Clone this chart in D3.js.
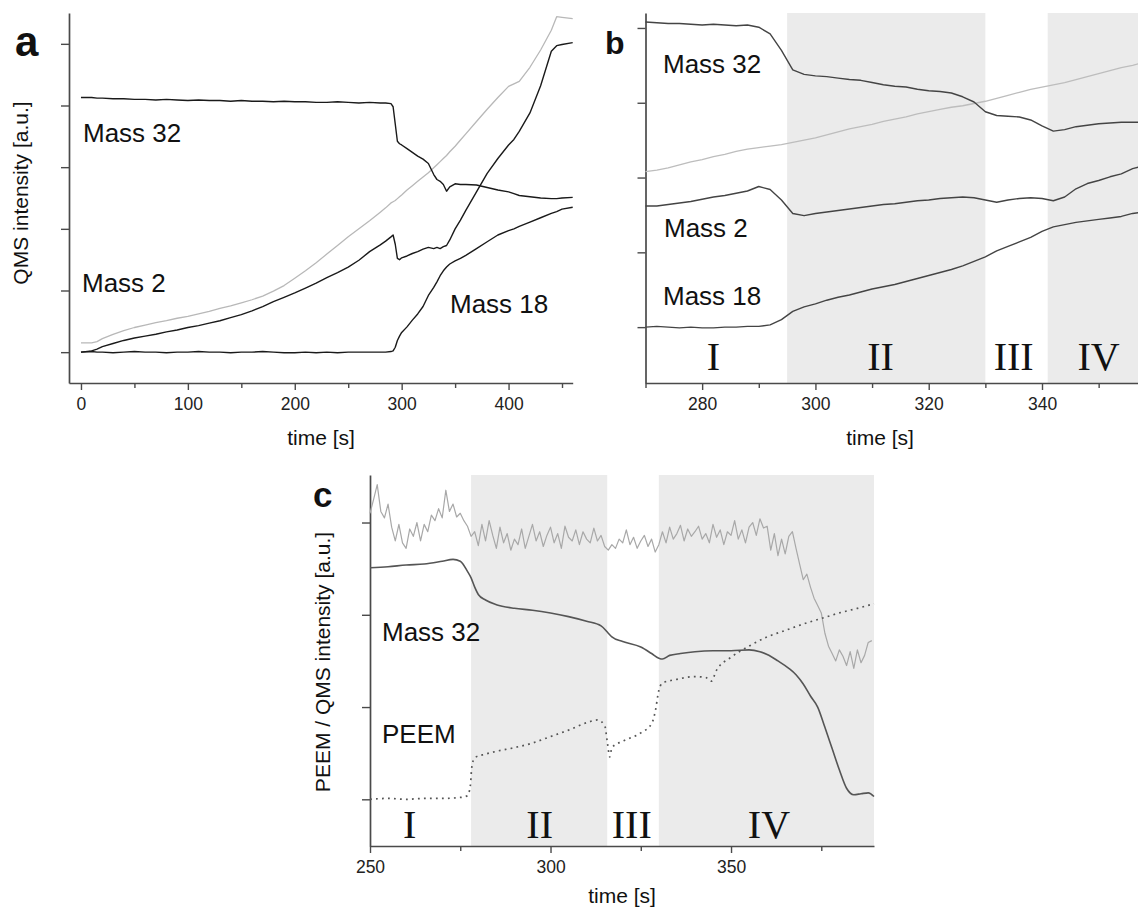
<!DOCTYPE html>
<html>
<head>
<meta charset="utf-8">
<script src="https://cdn.jsdelivr.net/npm/d3@7"></script>
<style>
  body { margin: 0; background: #fff; }
  #chart-container { width: 1138px; height: 910px; }
</style>
</head>
<body>
<div id="chart-container"></div>
<script>
// ---------- data: panel a (QMS, full run) ----------
const aTime = [0, 10, 15, 20, 30, 40, 50, 60, 70, 80, 90, 100, 110, 120, 130, 140, 150, 160, 170, 180, 190,
  200, 210, 220, 230, 240, 250, 260, 270, 280, 285, 290, 292, 294, 296, 298, 300, 305, 310, 315, 320, 325,
  330, 333, 336, 339, 342, 345, 350, 355, 360, 370, 380, 390, 400, 405, 410, 420, 430, 440, 445, 450, 460];
const aMass32 = [4.13, 4.13, 4.12, 4.12, 4.11, 4.11, 4.10, 4.10, 4.09, 4.10, 4.09, 4.08, 4.09, 4.08, 4.08, 4.07, 4.08, 4.07, 4.07, 4.06, 4.07,
  4.06, 4.06, 4.05, 4.05, 4.06, 4.05, 4.04, 4.05, 4.04, 4.04, 4.03, 3.98, 3.70, 3.42, 3.38, 3.36, 3.30, 3.24, 3.18, 3.13, 3.06,
  2.88, 2.80, 2.77, 2.72, 2.61, 2.68, 2.73, 2.72, 2.72, 2.71, 2.67, 2.63, 2.60, 2.57, 2.54, 2.52, 2.50, 2.49, 2.49, 2.50, 2.51];
const aGrey = [0.15, 0.15, 0.17, 0.22, 0.29, 0.35, 0.40, 0.44, 0.48, 0.51, 0.55, 0.58, 0.62, 0.66, 0.71, 0.75, 0.80, 0.85, 0.91, 0.99, 1.08,
  1.20, 1.32, 1.45, 1.59, 1.73, 1.87, 2.00, 2.13, 2.27, 2.34, 2.42, 2.44, 2.46, 2.49, 2.52, 2.55, 2.63, 2.70, 2.77, 2.84, 2.91,
  2.99, 3.04, 3.09, 3.14, 3.19, 3.25, 3.34, 3.44, 3.54, 3.74, 3.94, 4.13, 4.31, 4.35, 4.39, 4.62, 4.90, 5.22, 5.44, 5.43, 5.41];
const aMass2 = [0.00, 0.02, 0.05, 0.09, 0.14, 0.19, 0.23, 0.26, 0.29, 0.33, 0.36, 0.40, 0.43, 0.47, 0.51, 0.56, 0.61, 0.67, 0.74, 0.82, 0.89,
  0.96, 1.04, 1.12, 1.21, 1.29, 1.38, 1.49, 1.63, 1.74, 1.80, 1.87, 1.90, 1.75, 1.52, 1.50, 1.53, 1.56, 1.60, 1.63, 1.67, 1.70,
  1.68, 1.70, 1.68, 1.71, 1.73, 1.82, 2.00, 2.14, 2.30, 2.60, 2.90, 3.14, 3.36, 3.45, 3.58, 3.88, 4.32, 4.88, 4.97, 4.99, 5.02];
const aMass18 = [0.00, 0.01, 0.00, 0.00, -0.01, 0.00, 0.01, 0.00, 0.00, -0.01, 0.00, 0.00, 0.01, 0.00, 0.00, -0.01, 0.00, 0.00, 0.01, 0.00, -0.01,
  -0.01, 0.00, -0.01, 0.00, -0.01, 0.00, 0.00, 0.00, 0.00, 0.00, 0.01, 0.02, 0.08, 0.19, 0.26, 0.32, 0.41, 0.52, 0.62, 0.74, 0.92,
  1.05, 1.14, 1.24, 1.32, 1.38, 1.43, 1.48, 1.52, 1.57, 1.68, 1.79, 1.90, 1.97, 2.00, 2.04, 2.11, 2.18, 2.25, 2.28, 2.32, 2.35];

// ---------- data: panel b (QMS, zoom on reaction) ----------
const bTime = [270, 272, 274, 276, 278, 280, 282, 284, 286, 288, 290, 292, 294, 296, 298, 300, 302, 304, 306, 308, 310, 312,
  314, 316, 318, 320, 322, 324, 326, 328, 330, 332, 334, 336, 338, 340, 342, 344, 346, 348, 350, 352, 354, 356, 357];
const bMass32 = [4.08, 4.07, 4.06, 4.06, 4.05, 4.04, 4.05, 4.04, 4.03, 4.04, 4.01, 3.92, 3.70, 3.44, 3.38, 3.36, 3.35, 3.33, 3.31, 3.30, 3.27, 3.24,
  3.22, 3.21, 3.18, 3.16, 3.15, 3.13, 3.08, 3.01, 2.88, 2.83, 2.82, 2.81, 2.77, 2.69, 2.62, 2.64, 2.68, 2.70, 2.72, 2.73, 2.74, 2.74, 2.74];
const bGrey = [2.08, 2.10, 2.13, 2.17, 2.21, 2.24, 2.28, 2.31, 2.35, 2.38, 2.40, 2.42, 2.44, 2.47, 2.50, 2.53, 2.57, 2.61, 2.65, 2.68, 2.71, 2.75,
  2.78, 2.81, 2.85, 2.88, 2.91, 2.94, 2.96, 2.99, 3.02, 3.06, 3.10, 3.14, 3.18, 3.21, 3.24, 3.27, 3.31, 3.35, 3.39, 3.43, 3.47, 3.50, 3.52];
const bMass2 = [1.62, 1.62, 1.64, 1.66, 1.68, 1.71, 1.74, 1.76, 1.79, 1.82, 1.88, 1.84, 1.70, 1.52, 1.49, 1.52, 1.54, 1.56, 1.58, 1.60, 1.62, 1.64,
  1.65, 1.67, 1.69, 1.70, 1.72, 1.73, 1.74, 1.73, 1.70, 1.67, 1.70, 1.72, 1.73, 1.72, 1.69, 1.74, 1.85, 1.92, 1.96, 2.01, 2.05, 2.12, 2.14];
const bMass18 = [0.00, 0.01, 0.00, -0.01, 0.00, -0.01, -0.01, 0.00, 0.00, 0.01, 0.01, 0.03, 0.10, 0.21, 0.27, 0.31, 0.36, 0.40, 0.43, 0.47, 0.51, 0.54,
  0.57, 0.61, 0.65, 0.69, 0.73, 0.77, 0.82, 0.88, 0.94, 1.02, 1.08, 1.14, 1.20, 1.28, 1.34, 1.37, 1.40, 1.42, 1.44, 1.46, 1.48, 1.52, 1.53];

// ---------- data: panel c (PEEM vs QMS) ----------
const cNoiseStart = 250; // grey trace sampled once per second from here
const cGrey = [
  3.10, 3.25, 3.41, 3.12, 3.05, 3.20, 2.95, 2.80, 2.98, 2.78,
  2.72, 2.93, 2.85, 3.00, 2.80, 2.98, 2.90, 3.08, 3.02, 3.15,
  3.05, 3.35, 3.12, 3.20, 3.06, 3.10, 3.02, 2.96, 2.85, 2.90,
  2.75, 2.98, 2.80, 3.02, 2.86, 2.72, 2.95, 2.78, 2.88, 2.70,
  2.82, 2.76, 2.93, 2.72, 2.85, 2.98, 2.80, 2.90, 2.74, 2.86,
  2.95, 2.78, 2.88, 2.72, 2.96, 2.84, 2.80, 2.92, 2.76, 2.90,
  2.82, 2.78, 2.94, 2.80, 2.86, 2.74, 2.70, 2.76, 2.72, 2.82,
  2.78, 2.92, 2.76, 2.84, 2.72, 2.80, 2.86, 2.74, 2.82, 2.68,
  2.76, 2.90, 2.78, 2.95, 2.82, 2.88, 2.97, 2.80, 2.93, 2.85,
  2.90, 2.96, 2.82, 2.88, 2.78, 2.98, 2.84, 2.92, 2.76, 2.90,
  2.86, 3.02, 2.82, 2.92, 2.78, 2.95, 3.00, 2.86, 3.04, 2.94,
  2.96, 2.70, 2.88, 2.64, 2.82, 2.66, 2.85, 2.90, 2.72, 2.55,
  2.38, 2.44, 2.30, 2.18, 2.10, 2.02, 1.80, 1.66, 1.58, 1.50,
  1.62, 1.55, 1.45, 1.60, 1.42, 1.62, 1.48, 1.56, 1.70, 1.72];
const cMass32Time = [250, 255, 260, 265, 270, 273, 275, 277, 278, 279, 280, 282, 285, 290, 295, 300, 305, 310, 314, 316, 317,
  320, 325, 328, 330, 331, 333, 336, 340, 345, 350, 355, 358, 360, 363, 366, 368, 370, 372, 374, 376, 378, 380, 382, 384, 386, 388, 389.6];
const cMass32 = [2.51, 2.52, 2.54, 2.55, 2.58, 2.60, 2.58, 2.47, 2.40, 2.30, 2.22, 2.16, 2.11, 2.07, 2.05, 2.02, 1.98, 1.93, 1.88, 1.80, 1.76,
  1.71, 1.65, 1.58, 1.53, 1.52, 1.56, 1.58, 1.60, 1.61, 1.61, 1.62, 1.60, 1.57, 1.50, 1.42, 1.35, 1.25, 1.12, 1.00, 0.78, 0.55, 0.32, 0.12, 0.05, 0.06, 0.07, 0.03];
const cPeemTime = [250, 255, 260, 265, 270, 275, 277, 277.8, 278.2, 279, 282, 285, 290, 295, 300, 305, 310, 313, 315, 315.8, 316.4,
  317, 320, 325, 328, 329, 330, 331, 335, 340, 343, 344.5, 346, 350, 355, 360, 365, 370, 375, 380, 385, 389.6];
const cPeem = [0.00, 0.01, 0.00, 0.01, 0.01, 0.02, 0.04, 0.15, 0.35, 0.45, 0.49, 0.52, 0.56, 0.61, 0.68, 0.75, 0.83, 0.86, 0.80, 0.60, 0.46,
  0.56, 0.63, 0.72, 0.82, 0.95, 1.18, 1.26, 1.30, 1.33, 1.32, 1.28, 1.40, 1.54, 1.66, 1.76, 1.83, 1.90, 1.96, 2.02, 2.07, 2.12];

// ---------- regions and labels ----------
const bRegions = [[295, 330], [341, 357]];
const cRegions = [[278, 315.7], [330, 389.6]];
const phaseNames = ["I", "II", "III", "IV"];
const bPhaseTimes = [282, 311.5, 335, 350];
const cPhaseTimes = [261, 297, 322.5, 360.5];

// ---------- page ----------
const W = 1138, H = 910;
const svg = d3.select("#chart-container")
  .append("svg")
  .attr("width", W)
  .attr("height", H)
  .style("font-family", "'Liberation Sans', Arial, sans-serif");

svg.append("rect").attr("width", W).attr("height", H).attr("fill", "#fff");

const axisColor = "#4a4a4a";

// draws axes for one panel, returns a group
function drawAxes(x, y, opt) {
  const g = svg.append("g");
  const [y0] = y.range();

  // minor x ticks (no labels)
  g.append("g")
    .attr("transform", `translate(0,${y0})`)
    .call(d3.axisBottom(x).tickValues(opt.minor).tickSize(5).tickSizeOuter(0).tickFormat(""))
    .call(s => s.select(".domain").remove());

  // major x ticks with labels
  g.append("g")
    .attr("transform", `translate(0,${y0})`)
    .call(d3.axisBottom(x).tickValues(opt.major).tickSize(7).tickSizeOuter(0).tickPadding(7.6).tickFormat(d3.format("d")))
    .call(s => s.selectAll(".tick text").style("font-size", "17.5px").attr("fill", "#222"));

  // y axis, ticks only
  g.append("g")
    .attr("transform", `translate(${x.range()[0]},0)`)
    .call(d3.axisLeft(y).tickValues(opt.yTicks).tickSize(8).tickSizeOuter(0).tickFormat(""));

  g.selectAll(".domain").attr("stroke", axisColor).attr("stroke-width", 1.7);
  g.selectAll(".tick line").attr("stroke", axisColor).attr("stroke-width", 1.4);
  return g;
}

function shade(x, y, regions) {
  svg.append("g")
    .selectAll("rect")
    .data(regions)
    .join("rect")
    .attr("x", d => x(d[0]))
    .attr("width", d => x(d[1]) - x(d[0]))
    .attr("y", y.range()[1])
    .attr("height", y.range()[0] - y.range()[1])
    .attr("fill", "#ebebeb");
}

function drawLine(x, y, times, values, color, width, dash, curve) {
  const line = d3.line()
    .x(d => x(d[0]))
    .y(d => y(d[1]))
    .curve(curve || d3.curveLinear);
  svg.append("path")
    .datum(times.map((t, i) => [t, values[i]]))
    .attr("fill", "none")
    .attr("stroke", color)
    .attr("stroke-width", width)
    .attr("stroke-dasharray", dash || null)
    .attr("stroke-linejoin", "round")
    .attr("d", line);
}

function label(x, y, txt, size, opts = {}) {
  svg.append("text")
    .attr("x", x)
    .attr("y", y)
    .attr("text-anchor", opts.anchor || "start")
    .style("font-size", size + "px")
    .style("font-weight", opts.bold ? "bold" : null)
    .style("font-family", opts.serif ? "'Liberation Serif', 'Times New Roman', serif" : null)
    .attr("fill", "#111")
    .text(txt);
}

function yTitle(cx, cy, txt) {
  svg.append("text")
    .attr("transform", `translate(${cx},${cy}) rotate(-90)`)
    .attr("text-anchor", "middle")
    .style("font-size", "21px")
    .attr("fill", "#111")
    .text(txt);
}

// ---------- panel a ----------
const xA = d3.scaleLinear().domain([-11.2, 460]).range([69, 572.7]);
const yA = d3.scaleLinear().domain([-0.5, 5.5]).range([383, 13]);

drawAxes(xA, yA, {
  major: [0, 100, 200, 300, 400],
  minor: [50, 150, 250, 350, 450],
  yTicks: [0, 1, 2, 3, 4, 5]
});
drawLine(xA, yA, aTime, aGrey, "#b8b8b8", 1.3);
drawLine(xA, yA, aTime, aMass32, "#1a1a1a", 1.4);
drawLine(xA, yA, aTime, aMass2, "#1a1a1a", 1.4);
drawLine(xA, yA, aTime, aMass18, "#1a1a1a", 1.4);

label(15, 56, "a", 42, { bold: true });
label(83, 142, "Mass 32", 26);
label(82, 292, "Mass 2", 26);
label(450, 313, "Mass 18", 26);
label(321, 445, "time [s]", 21, { anchor: "middle" });
yTitle(28, 193, "QMS intensity [a.u.]");

// ---------- panel b ----------
const xB = d3.scaleLinear().domain([270, 357]).range([645.5, 1138.3]);
const yB = d3.scaleLinear().domain([-0.747, 4.2]).range([383, 13]);

shade(xB, yB, bRegions);
drawAxes(xB, yB, {
  major: [280, 300, 320, 340],
  minor: [270, 290, 310, 330, 350],
  yTicks: [0, 1, 2, 3, 4]
});
drawLine(xB, yB, bTime, bGrey, "#bdbdbd", 1.3);
drawLine(xB, yB, bTime, bMass32, "#444", 1.4);
drawLine(xB, yB, bTime, bMass2, "#444", 1.4);
drawLine(xB, yB, bTime, bMass18, "#444", 1.4);

phaseNames.forEach((n, i) => label(xB(bPhaseTimes[i]), 370, n, 40, { anchor: "middle", serif: true }));
label(605, 54, "b", 32, { bold: true });
label(663, 72.5, "Mass 32", 26);
label(664, 237, "Mass 2", 26);
label(663, 305, "Mass 18", 26);
label(880, 445, "time [s]", 21, { anchor: "middle" });

// ---------- panel c ----------
const xC = d3.scaleLinear().domain([250, 389.6]).range([370, 874]);
const yC = d3.scaleLinear().domain([-0.506, 3.515]).range([846, 475]);

shade(xC, yC, cRegions);
drawAxes(xC, yC, {
  major: [250, 300, 350],
  minor: [275, 325, 375],
  yTicks: [0, 1, 2, 3]
});
const cGreyTime = cGrey.map((v, i) => cNoiseStart + i);
drawLine(xC, yC, cGreyTime, cGrey, "#a8a8a8", 1.2);
drawLine(xC, yC, cMass32Time, cMass32, "#555", 1.6, null, d3.curveMonotoneX);
drawLine(xC, yC, cPeemTime, cPeem, "#555", 1.7, "1.8,4.2", d3.curveMonotoneX);

phaseNames.forEach((n, i) => label(xC(cPhaseTimes[i]), 838, n, 40, { anchor: "middle", serif: true }));
label(313, 507, "c", 35, { bold: true });
label(382, 641, "Mass 32", 26);
label(382, 743, "PEEM", 26);
label(622, 903, "time [s]", 21, { anchor: "middle" });
yTitle(330, 662, "PEEM / QMS intensity [a.u.]");
</script>
</body>
</html>
